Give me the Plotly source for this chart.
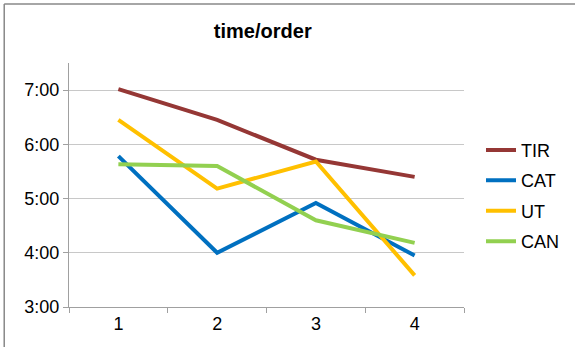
import plotly.graph_objects as go

orders = ["1", "2", "3", "4"]
series_names = ["TIR", "CAT", "UT", "CAN"]
tir = ["7:01", "6:27", "5:43", "5:24"]
cat = ["5:47", "4:00", "4:55", "3:57"]
ut = ["6:27", "5:11", "5:41", "3:35"]
can = ["5:38", "5:36", "4:36", "4:11"]
tick_labels = ["3:00", "4:00", "5:00", "6:00", "7:00"]
colors = ["#953735", "#0070C0", "#FFC000", "#92D050"]


def to_min(s):
    h, m = s.split(":")
    return int(h) * 60 + int(m)


fig = go.Figure()
for name, vals, col in zip(series_names, [tir, cat, ut, can], colors):
    fig.add_trace(go.Scatter(
        x=orders, y=[to_min(v) for v in vals], name=name, mode="lines",
        line=dict(color=col, width=4), legendgroup=name,
    ))

fig.update_layout(
    width=575, height=347, autosize=False,
    margin=dict(l=69, r=111, t=63, b=40),
    paper_bgcolor="white", plot_bgcolor="white",
    font=dict(family="Liberation Sans, Arial, sans-serif", size=18, color="#000000"),
    title=dict(text="<b>time/order</b>", x=0.457, xref="container", xanchor="center",
               y=0.911, yref="container", yanchor="middle",
               font=dict(size=20, color="#000000")),
    showlegend=True,
    legend=dict(x=481 / 575, xref="container", xanchor="left", y=0.456, yanchor="middle",
                font=dict(size=18), tracegroupgap=4, bgcolor="rgba(0,0,0,0)"),
    shapes=[
        dict(type="line", xref="paper", yref="paper", x0=-0.164, x1=1.5, y0=1.242, y1=1.242,
             line=dict(color="#888888", width=1.5)),
        dict(type="line", xref="paper", yref="paper", x0=-0.164, x1=-0.164, y0=-0.5, y1=1.242,
             line=dict(color="#888888", width=1.5)),
    ],
)
fig.update_xaxes(type="category", tickson="boundaries", ticks="outside", ticklen=5,
                 tickcolor="#a0a0a0", showline=True, linecolor="#a0a0a0", linewidth=1,
                 showgrid=False, range=[-0.5, 3.5], tickfont=dict(size=18))
fig.update_yaxes(range=[180, 450], tickvals=[to_min(t) for t in tick_labels],
                 ticktext=tick_labels, ticks="outside", ticklen=5, tickcolor="#a0a0a0",
                 showline=True, linecolor="#a0a0a0", linewidth=1, showgrid=True,
                 gridcolor="#c8c8c8", gridwidth=1, zeroline=False, tickfont=dict(size=18))

fig.write_html("out.html", config={"displayModeBar": False},
               post_script="document.body.style.margin='0';")
